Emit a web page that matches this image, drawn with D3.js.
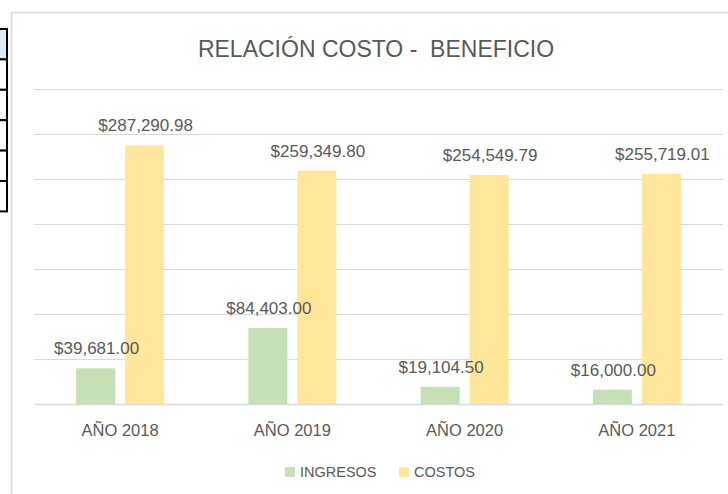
<!DOCTYPE html>
<html>
<head>
<meta charset="utf-8">
<script src="https://cdn.jsdelivr.net/npm/d3@7"></script>
<style>
  html, body { margin: 0; padding: 0; background: #fff; overflow: hidden; }
  text { font-family: 'Liberation Sans', Arial, sans-serif; fill: #595959; }
</style>
</head>
<body>
<div id="chart"></div>
<script>
// Datos
const categories = ['AÑO 2018', 'AÑO 2019', 'AÑO 2020', 'AÑO 2021'];
const seriesNames = ['INGRESOS', 'COSTOS'];
const ingresos = [39681.00, 84403.00, 19104.50, 16000.00];
const costos = [287290.98, 259349.80, 254549.79, 255719.01];
const colors = ['#C5E0B4', '#FFE699'];
const yMax = 350000;

const W = 728, H = 494;
const plot = { left: 34, right: 723, top: 89, bottom: 404 };

const svg = d3.select('#chart').append('svg')
    .attr('width', W)
    .attr('height', H);

// celdas de la hoja a la izquierda
const rows = d3.range(6);
svg.selectAll('.cell')
    .data(rows)
    .enter().append('rect')
    .attr('x', -10)
    .attr('y', d => 29 + d * 30.4)
    .attr('width', 17)
    .attr('height', 30.4)
    .attr('fill', d => d === 0 ? '#DDEBF7' : '#fff')
    .attr('stroke', '#000')
    .attr('stroke-width', 2);

// borde del gráfico
svg.append('rect')
    .attr('x', 11.5)
    .attr('y', 12.5)
    .attr('width', 800)
    .attr('height', 600)
    .attr('fill', '#fff')
    .attr('stroke', '#D9D9D9')
    .attr('stroke-width', 1.5);

// Escalas
const x = d3.scaleBand()
    .domain(categories)
    .range([plot.left, plot.right]);

const xInner = d3.scaleBand()
    .domain(seriesNames)
    .range([-44, 44])
    .paddingInner(10 / 49);

const y = d3.scaleLinear()
    .domain([0, yMax])
    .range([plot.bottom, plot.top]);

// líneas de la cuadrícula
svg.append('g')
    .selectAll('line')
    .data(y.ticks(7))
    .enter().append('line')
    .attr('x1', plot.left)
    .attr('x2', plot.right)
    .attr('y1', d => Math.round(y(d)) + 0.5)
    .attr('y2', d => Math.round(y(d)) + 0.5)
    .attr('stroke', '#D9D9D9')
    .attr('stroke-width', d => d === 0 ? 1.5 : 1.2);

// Barras
const table = categories.map((c, i) => ({
    cat: c,
    values: [
        { name: seriesNames[0], value: ingresos[i], color: colors[0] },
        { name: seriesNames[1], value: costos[i], color: colors[1] }
    ]
}));

const groups = svg.selectAll('.group')
    .data(table)
    .enter().append('g')
    .attr('class', 'group')
    .attr('transform', d => `translate(${x(d.cat) + x.bandwidth() / 2},0)`);

groups.selectAll('rect')
    .data(d => d.values)
    .enter().append('rect')
    .attr('x', d => xInner(d.name))
    .attr('width', xInner.bandwidth())
    .attr('y', d => y(d.value))
    .attr('height', d => y(0) - y(d.value))
    .attr('fill', d => d.color);

const fmt = d3.format('$,.2f');
groups.selectAll('.label')
    .data(d => d.values)
    .enter().append('text')
    .attr('class', 'label')
    .attr('x', d => xInner(d.name) + xInner.bandwidth() / 2 + 1)
    .attr('y', d => y(d.value) - 14)
    .attr('text-anchor', 'middle')
    .style('font-size', '17px')
    .text(d => fmt(d.value));

// Eje X
svg.append('g')
    .selectAll('text')
    .data(categories)
    .enter().append('text')
    .attr('x', d => x(d) + x.bandwidth() / 2)
    .attr('y', 436)
    .attr('text-anchor', 'middle')
    .style('font-size', '16.5px')
    .text(d => d);

// Título
svg.append('text')
    .attr('x', 376)
    .attr('y', 57)
    .attr('text-anchor', 'middle')
    .style('font-size', '23px')
    .style('white-space', 'pre')
    .text('RELACIÓN COSTO -  BENEFICIO');

// Leyenda
const legendX = [285, 399];
const legend = svg.selectAll('.legend')
    .data(seriesNames)
    .enter().append('g')
    .attr('class', 'legend')
    .attr('transform', (d, i) => `translate(${legendX[i]},467)`);

legend.append('rect')
    .attr('width', 10)
    .attr('height', 10)
    .attr('fill', (d, i) => colors[i]);

legend.append('text')
    .attr('x', 15)
    .attr('y', 10)
    .style('font-size', '14.5px')
    .text(d => d);
</script>
</body>
</html>
